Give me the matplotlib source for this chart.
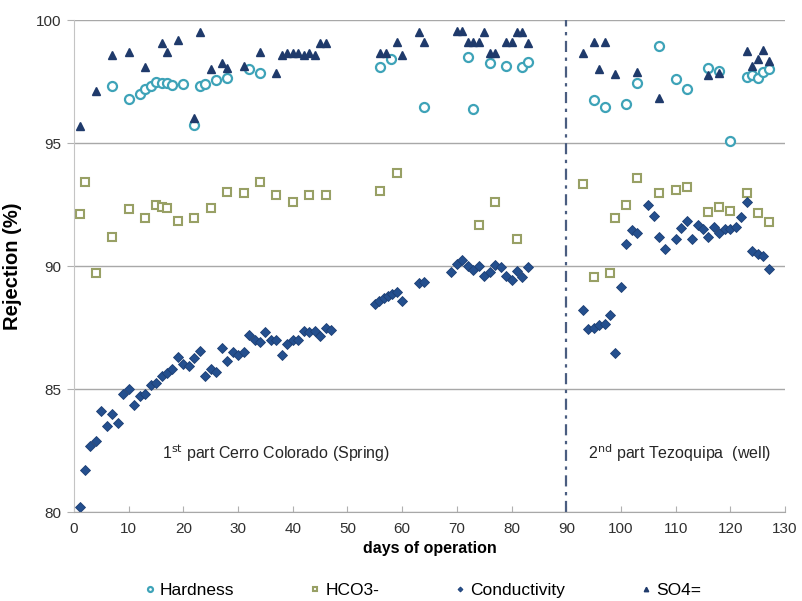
import matplotlib
matplotlib.use("Agg")
import matplotlib.pyplot as plt

plt.rcParams['font.family'] = ['Liberation Sans', 'DejaVu Sans']

# Hardness rejection (%)
hard_days = [7, 10, 12, 13, 14, 15, 16, 17, 18, 20, 22, 23, 24, 26, 28, 32, 34,
             56, 58, 64, 72, 73, 76, 79, 82, 83,
             95, 97, 101, 103, 107, 110, 112, 116, 118, 120, 123, 124, 125, 126, 127]
hard_vals = [97.3, 96.8, 97.0, 97.2, 97.3, 97.5, 97.45, 97.45, 97.35, 97.4, 95.75, 97.3, 97.4, 97.55, 97.65, 98.0, 97.85,
             98.1, 98.4, 96.45, 98.5, 96.4, 98.25, 98.15, 98.1, 98.3,
             96.75, 96.45, 96.6, 97.45, 98.95, 97.6, 97.2, 98.05, 97.95, 95.1, 97.7, 97.75, 97.65, 97.9, 98.0]

# HCO3- rejection (%)
hco3_days = [1, 2, 4, 7, 10, 13, 15, 16, 17, 19, 22, 25, 28, 31, 34, 37, 40, 43, 46,
             56, 59, 74, 77, 81,
             93, 95, 98, 99, 101, 103, 107, 110, 112, 116, 118, 120, 123, 125, 127]
hco3_vals = [92.1, 93.4, 89.7, 91.2, 92.3, 91.95, 92.5, 92.4, 92.35, 91.85, 91.95, 92.35, 93.0, 92.95, 93.4, 92.9, 92.6, 92.9, 92.9,
             93.05, 93.8, 91.65, 92.6, 91.1,
             93.35, 89.55, 89.7, 91.95, 92.5, 93.6, 92.95, 93.1, 93.2, 92.2, 92.4, 92.25, 92.95, 92.15, 91.8]

# Conductivity rejection (%)
cond_days = [1, 2, 3, 4, 5, 6, 7, 8, 9, 10, 11, 12, 13, 14, 15, 16, 17, 18, 19, 20,
             21, 22, 23, 24, 25, 26, 27, 28, 29, 30, 31, 32, 33, 34, 35, 36, 37, 38, 39, 40,
             41, 42, 43, 44, 45, 46, 47,
             55, 55.8, 56.6, 57.4, 58.2, 59.1, 60, 63, 64,
             69, 70, 71, 72, 73, 74, 75, 76, 77, 78, 79, 80, 81, 82, 83,
             93, 94, 95, 96, 97, 98, 99, 100, 101, 102, 103, 105, 106, 107, 108, 110,
             111, 112, 113, 114, 115, 116, 117, 118, 119, 120, 121, 122, 123, 124, 125, 126, 127]
cond_vals = [80.2, 81.7, 82.7, 82.9, 84.1, 83.5, 84.0, 83.6, 84.8, 85.0, 84.35, 84.7, 84.8, 85.15, 85.25, 85.55, 85.65, 85.8, 86.3, 86.0,
             85.95, 86.25, 86.55, 85.55, 85.8, 85.7, 86.65, 86.15, 86.5, 86.4, 86.5, 87.2, 87.0, 86.9, 87.3, 87.0, 87.0, 86.4, 86.85, 87.0,
             87.0, 87.35, 87.3, 87.35, 87.15, 87.5, 87.4,
             88.45, 88.6, 88.7, 88.8, 88.85, 88.95, 88.6, 89.3, 89.35,
             89.75, 90.1, 90.25, 90.0, 89.85, 90.0, 89.6, 89.75, 90.05, 89.95, 89.6, 89.45, 89.8, 89.55, 89.95,
             88.2, 87.45, 87.5, 87.6, 87.65, 88.0, 86.45, 89.15, 90.9, 91.45, 91.35, 92.5, 92.05, 91.2, 90.7, 91.1,
             91.55, 91.85, 91.1, 91.65, 91.5, 91.2, 91.6, 91.35, 91.5, 91.5, 91.6, 92.0, 92.6, 90.6, 90.5, 90.4, 89.9]

# SO4= rejection (%)
so4_days = [1, 4, 7, 10, 13, 16, 17, 19, 22, 23, 25, 27, 28, 31, 34, 37, 38, 39, 40, 41, 42, 43, 44, 45, 46,
            56, 57, 59, 60, 63, 64, 70, 71, 72, 73, 74, 75, 76, 77, 79, 80, 81, 82, 83,
            93, 95, 96, 97, 99, 103, 107, 116, 118, 123, 124, 125, 126, 127]
so4_vals = [95.7, 97.1, 98.6, 98.7, 98.1, 99.05, 98.7, 99.2, 96.0, 99.5, 98.0, 98.25, 98.05, 98.15, 98.7, 97.85,
            98.6, 98.65, 98.65, 98.65, 98.6, 98.65, 98.6, 99.05, 99.05,
            98.65, 98.65, 99.1, 98.6, 99.5, 99.1, 99.55, 99.55, 99.1, 99.1, 99.1, 99.5, 98.65, 98.65, 99.1, 99.1, 99.5, 99.5, 99.05,
            98.65, 99.1, 98.0, 99.1, 97.8, 97.9, 96.85, 97.75, 97.85, 98.75, 98.15, 98.4, 98.8, 98.35]

xticks = [0, 10, 20, 30, 40, 50, 60, 70, 80, 90, 100, 110, 120, 130]
yticks = [80, 85, 90, 95, 100]

fig = plt.figure(figsize=(8.03, 6.01), dpi=100)
ax = fig.add_axes([0.0922, 0.148, 0.8854, 0.8186])

ax.yaxis.grid(True, color='#a8a8a8', lw=1.0)
ax.set_axisbelow(True)

ax.axvline(90, color='#4a5d80', lw=1.6, dashes=(5, 2.5, 1.5, 2.5))

ax.plot(hard_days, hard_vals, ls='none', marker='o', ms=6.5, mfc='white',
        mec='#3ea3b8', mew=1.6, label='Hardness')
ax.plot(hco3_days, hco3_vals, ls='none', marker='s', ms=5.8, mfc='white',
        mec='#98a065', mew=1.5, label='HCO3-')
ax.plot(cond_days, cond_vals, ls='none', marker='D', ms=4.6, color='#244f8e',
        mec='#1d3f74', mew=0.6, label='Conductivity')
ax.plot(so4_days, so4_vals, ls='none', marker='^', ms=5.8, color='#1f3a6b',
        label='SO4=')

ax.text(37, 82.4, r'1$^{\mathrm{st}}$ part Cerro Colorado (Spring)', ha='center', va='center',
        fontsize=11.5, color='#262626')
ax.text(110.8, 82.4, r'2$^{\mathrm{nd}}$ part Tezoquipa  (well)', ha='center', va='center',
        fontsize=11.5, color='#262626')

ax.set_xlim(0, 130)
ax.set_ylim(80, 100)
ax.set_xticks(xticks)
ax.set_yticks(yticks)

for s in ['top', 'right']:
    ax.spines[s].set_visible(False)
ax.spines['left'].set_color('#c4c4c4')
ax.spines['bottom'].set_color('#a8a8a8')

ax.tick_params(axis='x', direction='in', length=4, color='#b0b0b0', labelsize=11,
               labelcolor='#303030', pad=7)
ax.tick_params(axis='y', direction='out', length=5, color='#b0b0b0', labelsize=11,
               labelcolor='#303030', pad=4)

ax.set_xlabel('days of operation', fontsize=11.5, fontweight='bold', labelpad=4)
ax.set_ylabel('Rejection (%)', fontsize=14.5, fontweight='bold', labelpad=10)

handles, labels = ax.get_legend_handles_labels()
fig.legend(handles, labels, loc='center', bbox_to_anchor=(0.527, 0.018), ncol=4,
           frameon=False, fontsize=12.5, markerscale=0.55, handlelength=0.55,
           handletextpad=0.3, columnspacing=4.4)

fig.savefig('out.png', dpi=100)
